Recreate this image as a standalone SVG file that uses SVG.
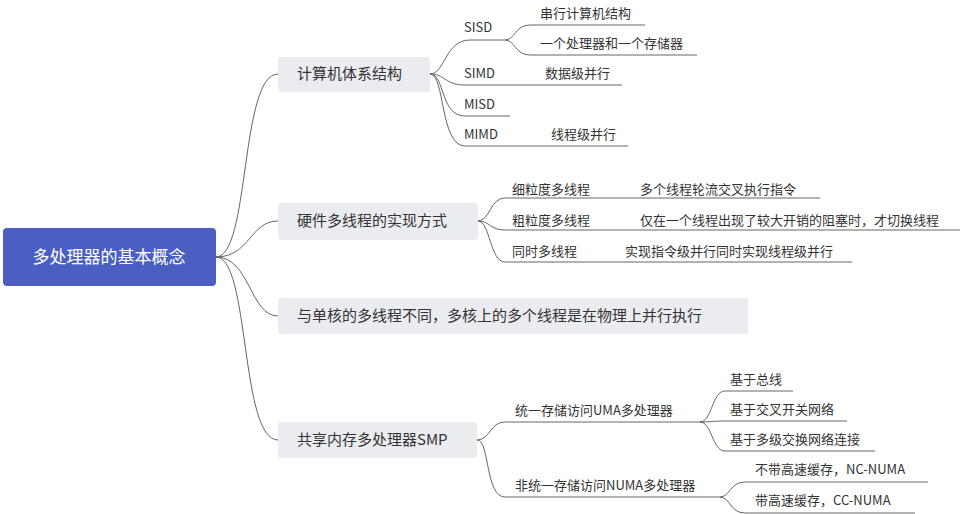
<svg xmlns="http://www.w3.org/2000/svg" width="961" height="514" viewBox="0 0 961 514">
<style>
text{font-family:"Noto Sans CJK SC","Microsoft YaHei",sans-serif;fill:#333}
.l1{font-size:15px}
.l2{font-size:13px}
.box{fill:#ebecef}
#connectors path{fill:none;stroke:#666;stroke-width:1}
</style>
<rect width="961" height="514" fill="#fff"/>
<g id="connectors">
<path d="M216,257 C250,257 240,74 278,74"/>
<path d="M216,257 C250,257 250,221 278,221"/>
<path d="M216,257 C250,257 250,316 278,316"/>
<path d="M216,257 C250,257 240,440 278,440"/>
<path d="M430,74 C445,74 445,40 470,40 H505"/>
<path d="M505,40 C515,40 515,25 530,25 H645"/>
<path d="M505,40 C515,40 515,55 530,55 H697"/>
<path d="M430,74 C445,74 445,85 465,85 H622"/>
<path d="M430,74 C445,74 440,116 465,116 H510"/>
<path d="M430,74 C445,74 440,146 465,146 H628"/>
<path d="M478,221 C490,221 490,198 505,198 H820"/>
<path d="M478,221 C490,221 490,230 505,230 H960"/>
<path d="M478,221 C490,221 490,262 505,262 H852"/>
<path d="M477,440 C490,440 490,422 505,422 H700"/>
<path d="M477,440 C490,440 485,497 505,497 H720"/>
<path d="M700,422 C712,422 712,391 725,391 H793"/>
<path d="M700,422 C712,422 712,421 725,421 H847"/>
<path d="M700,422 C712,422 712,451 725,451 H875"/>
<path d="M720,497 C730,497 730,482 745,482 H928"/>
<path d="M720,497 C730,497 730,513 745,513 H915"/>
</g>
<g id="root"><rect x="3" y="228" width="213" height="58" rx="4" fill="#4a5fc1"/><text x="109" y="263" font-size="17" text-anchor="middle" style="fill:#fff">多处理器的基本概念</text></g>
<g id="n1"><rect class="box" x="278" y="57" width="152" height="35" rx="3"/><text class="l1" x="297" y="79">计算机体系结构</text></g>
<g id="n2"><rect class="box" x="278" y="203" width="200" height="37" rx="3"/><text class="l1" x="297" y="226">硬件多线程的实现方式</text></g>
<g id="n3"><rect class="box" x="278" y="298" width="470" height="36" rx="3"/><text class="l1" x="297" y="321">与单核的多线程不同，多核上的多个线程是在物理上并行执行</text></g>
<g id="n4"><rect class="box" x="278" y="422" width="199" height="36" rx="3"/><text class="l1" x="297" y="445">共享内存多处理器SMP</text></g>
<g id="n1c" class="l2">
<text x="464" y="32">SISD</text><text x="540" y="18">串行计算机结构</text><text x="540" y="48">一个处理器和一个存储器</text>
<text x="464" y="78">SIMD</text><text x="545" y="78">数据级并行</text>
<text x="464" y="109">MISD</text>
<text x="464" y="139">MIMD</text><text x="551" y="139">线程级并行</text>
</g>
<g id="n2c" class="l2">
<text x="512" y="194">细粒度多线程</text><text x="640" y="194">多个线程轮流交叉执行指令</text>
<text x="512" y="225">粗粒度多线程</text><text x="640" y="225">仅在一个线程出现了较大开销的阻塞时，才切换线程</text>
<text x="512" y="256">同时多线程</text><text x="625" y="256">实现指令级并行同时实现线程级并行</text>
</g>
<g id="n4c" class="l2">
<text x="515" y="415">统一存储访问UMA多处理器</text>
<text x="730" y="384">基于总线</text><text x="730" y="414">基于交叉开关网络</text><text x="730" y="444">基于多级交换网络连接</text>
<text x="515" y="490">非统一存储访问NUMA多处理器</text>
<text x="755" y="474">不带高速缓存，NC-NUMA</text><text x="755" y="505">带高速缓存，CC-NUMA</text>
</g>
</svg>
